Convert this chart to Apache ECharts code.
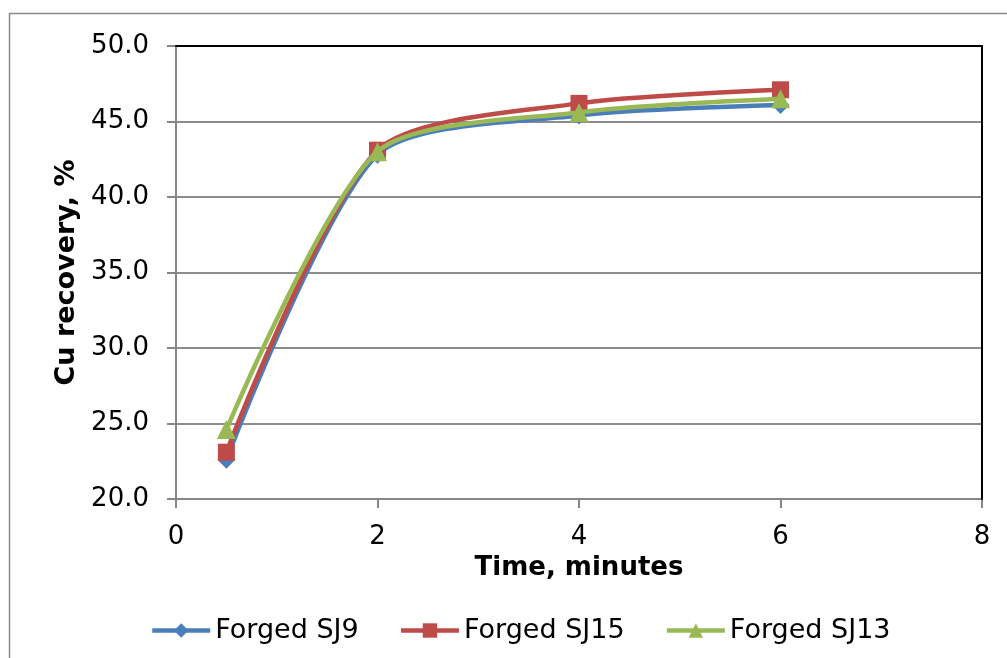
<!DOCTYPE html>
<html>
<head>
<meta charset="utf-8">
<script src="https://cdn.jsdelivr.net/npm/echarts@6/dist/echarts.min.js"></script>
<style>
html,body{margin:0;padding:0;background:#fff;}
#chart{width:1007px;height:658px;}
</style>
</head>
<body>
<div id="chart"></div>
<script>
const timeMinutes = [0.5, 2, 4, 6];
const forgedSJ9 = [22.6, 42.8, 45.4, 46.1];
const forgedSJ15 = [23.1, 43.1, 46.2, 47.1];
const forgedSJ13 = [24.6, 43.0, 45.6, 46.5];
const seriesNames = ['Forged SJ9', 'Forged SJ15', 'Forged SJ13'];
const xTicks = [0, 2, 4, 6, 8];
const yTicks = [20, 25, 30, 35, 40, 45, 50];

const pairs = vals => timeMinutes.map((t, i) => [t, vals[i]]);
const FONT = 'DejaVu Sans';
const chart = echarts.init(document.getElementById('chart'), null, {renderer: 'canvas'});
const colors = ['#4A7EBB', '#BE4B48', '#98B954'];
const symbols = ['diamond', 'rect', 'triangle'];
const sizes = [18, 17, 19];
const data = [forgedSJ9, forgedSJ15, forgedSJ13];
const xMin = xTicks[0], xMax = xTicks[xTicks.length - 1];
const yMin = yTicks[0], yMax = yTicks[yTicks.length - 1];

chart.setOption({
  animation: false,
  backgroundColor: '#fff',
  graphic: [{
    type: 'rect',
    shape: {x: 9.5, y: 13.5, width: 1010, height: 660},
    style: {fill: 'none', stroke: '#8a8a8a', lineWidth: 1.5},
    silent: true, z: -10
  }],
  grid: {left: 176, right: 25, top: 46, bottom: 159},
  legend: {
    left: 145, top: 612,
    itemWidth: 58, itemHeight: 18, itemGap: 40,
    lineStyle: {width: 4.5},
    textStyle: {fontFamily: FONT, fontSize: 27, color: '#000'},
    data: seriesNames
  },
  xAxis: [{
    type: 'value', min: xMin, max: xMax, interval: 2,
    name: 'Time, minutes', nameLocation: 'middle', nameGap: 54,
    nameTextStyle: {fontFamily: FONT, fontSize: 26, fontWeight: 'bold', color: '#000', verticalAlign: 'top'},
    axisLine: {show: true, onZero: false, lineStyle: {color: '#868686', width: 2}},
    axisTick: {show: true, length: 9, lineStyle: {color: '#868686', width: 2}},
    axisLabel: {fontFamily: FONT, fontSize: 26, color: '#000', margin: 25},
    splitLine: {show: false},
    z: 5
  }, {
    type: 'value', position: 'top', min: xMin, max: xMax, interval: 2,
    axisLine: {show: true, onZero: false, lineStyle: {color: '#000', width: 2}},
    axisTick: {show: false}, axisLabel: {show: false}, splitLine: {show: false},
    z: 7
  }],
  yAxis: [{
    type: 'value', min: yMin, max: yMax, interval: 5,
    name: 'Cu recovery, %', nameLocation: 'middle', nameGap: 80,
    nameTextStyle: {fontFamily: FONT, fontSize: 27, fontWeight: 'bold', color: '#000'},
    axisLine: {show: true, onZero: false, lineStyle: {color: '#868686', width: 2}},
    axisTick: {show: true, length: 9, lineStyle: {color: '#868686', width: 2}},
    axisLabel: {fontFamily: FONT, fontSize: 26, color: '#000', margin: 27, formatter: v => v.toFixed(1)},
    splitLine: {show: true, lineStyle: {color: '#8c8c8c', width: 2}},
    z: 5
  }, {
    type: 'value', position: 'right', min: yMin, max: yMax, interval: 5,
    axisLine: {show: true, onZero: false, lineStyle: {color: '#000', width: 2}},
    axisTick: {show: false}, axisLabel: {show: false}, splitLine: {show: false},
    z: 7
  }],
  series: seriesNames.map((n, i) => ({
    name: n, type: 'line', smooth: 0.25,
    data: pairs(data[i]),
    symbol: symbols[i], symbolSize: sizes[i],
    lineStyle: {color: colors[i], width: 4.5},
    itemStyle: {color: colors[i]},
    z: 8 + i
  }))
});
</script>
</body>
</html>
